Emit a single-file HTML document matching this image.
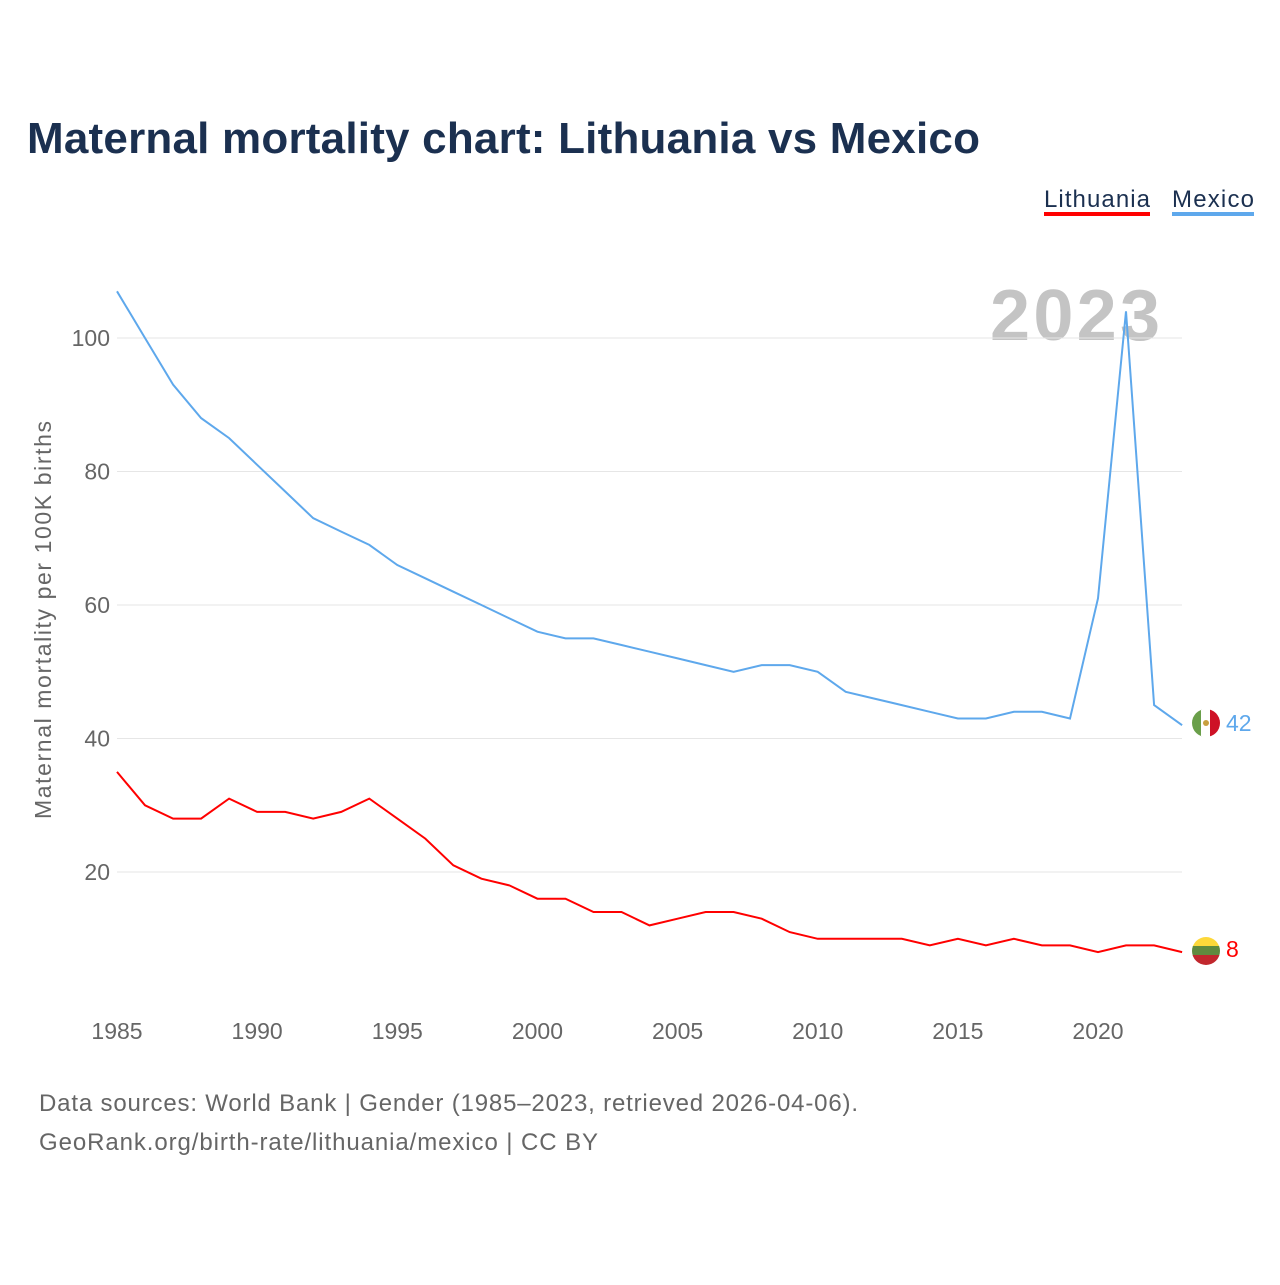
<!DOCTYPE html>
<html><head><meta charset="utf-8"><style>
body{margin:0;background:#fff;font-family:"Liberation Sans",sans-serif;}
</style></head><body>
<svg width="1280" height="1280" viewBox="0 0 1280 1280">
<text x="27" y="153" font-size="44" font-weight="bold" fill="#1b3050" textLength="953">Maternal mortality chart: Lithuania vs Mexico</text>
<g>
<text x="1044" y="207" font-size="24" fill="#1b3050" textLength="106">Lithuania</text>
<rect x="1044" y="212" width="106" height="4" fill="#ff0000"/>
<text x="1172" y="207" font-size="24" fill="#1b3050" textLength="82">Mexico</text>
<rect x="1172" y="212" width="82" height="4" fill="#5ea8ec"/>
</g>
<text x="1160" y="340" font-size="72" font-weight="bold" fill="#c4c4c4" text-anchor="end" textLength="170">2023</text>
<g id="grid"></g>
<g id="yticks"></g>
<g id="xticks"></g>
<text transform="translate(51,620) rotate(-90)" font-size="23" fill="#666" text-anchor="middle" textLength="398">Maternal mortality per 100K births</text>
<g id="series"></g>
<g>
<clipPath id="cm"><circle cx="1206" cy="723" r="14"/></clipPath>
<g clip-path="url(#cm)"><rect x="1192" y="709" width="10" height="28" fill="#6a9f4a"/><rect x="1201" y="709" width="10" height="28" fill="#fff"/><rect x="1210" y="709" width="10" height="28" fill="#ce1126"/><circle cx="1206" cy="723" r="3" fill="#c8a040"/></g></g>
<g>
<clipPath id="cl"><circle cx="1206" cy="951" r="14"/></clipPath>
<g clip-path="url(#cl)"><rect x="1192" y="937" width="28" height="10" fill="#fdd83a"/><rect x="1192" y="946" width="28" height="10" fill="#5f8a3e"/><rect x="1192" y="955" width="28" height="10" fill="#c1272d"/></g></g>
<text x="1226" y="731" font-size="23" fill="#5ea8ec">42</text>
<text x="1226" y="957" font-size="23" fill="#ff0000">8</text>
<text x="39" y="1111" font-size="24" fill="#666" textLength="819">Data sources: World Bank | Gender (1985–2023, retrieved 2026-04-06).</text>
<text x="39" y="1150" font-size="24" fill="#666" textLength="559">GeoRank.org/birth-rate/lithuania/mexico | CC BY</text>
</svg>
<script>
const years=[];for(let y=1985;y<=2023;y++)years.push(y);
const mexico=[107,100,93,88,85,81,77,73,71,69,66,64,62,60,58,56,55,55,54,53,52,51,50,51,51,50,47,46,45,44,43,43,44,44,43,61,104,45,42];
const lithuania=[35,30,28,28,31,29,29,28,29,31,28,25,21,19,18,16,16,14,14,12,13,14,14,13,11,10,10,10,10,9,10,9,10,9,9,8,9,9,8];
const yTicks=[20,40,60,80,100];
const xTicks=[1985,1990,1995,2000,2005,2010,2015,2020];
const NS="http://www.w3.org/2000/svg";
const xs=y=>117+(y-1985)*(1098-117)/35;
const ys=v=>1005.5-v*6.675;
function mk(t,a,p){const e=document.createElementNS(NS,t);for(const k in a)e.setAttribute(k,a[k]);p.appendChild(e);return e;}
const grid=document.getElementById('grid'),yt=document.getElementById('yticks'),xt=document.getElementById('xticks'),se=document.getElementById('series');
yTicks.forEach(v=>{
const l=mk('line',{x1:117,x2:1182,y1:ys(v),y2:ys(v),stroke:'#e6e6e6','stroke-width':1},grid);


const t=mk('text',{x:110,y:ys(v)+8,'font-size':23,fill:'#666','text-anchor':'end'},yt);t.textContent=v;


});
xTicks.forEach(v=>{
const t=mk('text',{x:xs(v),y:1039,'font-size':23,fill:'#666','text-anchor':'middle'},xt);t.textContent=v;


});
function line(d,c,n){const p=mk('path',{d:d.map((v,i)=>(i?'L':'M')+xs(years[i]).toFixed(1)+','+ys(v).toFixed(1)).join(''),fill:'none',stroke:c,'stroke-width':2},se);

}
line(mexico,'#5ea8ec','mexico-line');
line(lithuania,'#ff0000','lithuania-line');
</script>
</body></html>
